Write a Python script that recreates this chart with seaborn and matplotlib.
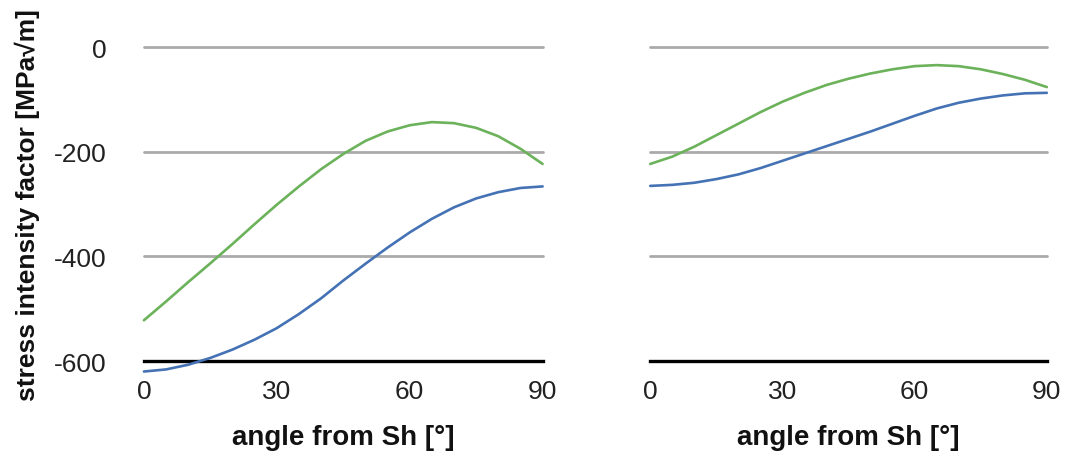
import matplotlib
matplotlib.use("Agg")
import matplotlib.pyplot as plt
import numpy as np
import pandas as pd
import seaborn as sns

# ---- data ----
angles = [0, 5, 10, 15, 20, 25, 30, 35, 40, 45, 50, 55, 60, 65, 70, 75, 80, 85, 90]

left_blue = [-620, -616, -607, -594, -578, -559, -537, -510, -480, -446,
             -414, -383, -354, -328, -306, -289, -277, -269, -266]
left_green = [-522, -486, -449, -413, -376, -338, -301, -266, -233, -204,
              -179, -161, -149, -143, -145, -154, -170, -194, -223]

right_blue = [-265, -263, -259, -252, -243, -231, -217, -203, -189, -175,
              -161, -146, -131, -117, -106, -98, -92, -88, -87]
right_green = [-223, -209, -190, -168, -146, -124, -104, -87, -72, -60,
               -50, -42, -36, -34, -36, -42, -51, -62, -76]

y_ticks = [-600, -400, -200, 0]
x_ticks = [0, 30, 60, 90]
x_label = "angle from Sh [°]"
y_label = "stress intensity factor [MPa√m]"

palette = {"blue": "#4472B4", "green": "#6BB25A"}

sns.set_style("white")
plt.rcParams["font.family"] = ["Liberation Sans", "DejaVu Sans"]
plt.rcParams["axes.unicode_minus"] = False

fig = plt.figure(figsize=(10.66, 4.56), dpi=100)
ax1 = fig.add_axes([0.135, 0.206, 0.374, 0.688])
ax2 = fig.add_axes([0.610, 0.206, 0.372, 0.688])


def make_df(blue, green):
    return pd.DataFrame({
        "angle": angles * 2,
        "K": list(blue) + list(green),
        "series": ["blue"] * len(angles) + ["green"] * len(angles),
    })


for ax, (b, g) in zip([ax1, ax2], [(left_blue, left_green), (right_blue, right_green)]):
    df = make_df(b, g)
    sns.lineplot(data=df, x="angle", y="K", hue="series", palette=palette,
                 linewidth=1.9, legend=False, ax=ax, zorder=3, clip_on=False)
    for ln in ax.get_lines():
        ln.set_solid_joinstyle("round")
    ax.set_xlim(0, 90)
    ax.set_ylim(-600, 0)
    ax.set_xticks(x_ticks)
    ax.set_yticks(y_ticks)
    ax.yaxis.grid(True, color="#AAAAAA", linewidth=2.0)
    ax.xaxis.grid(False)
    for gl in ax.get_ygridlines():
        gl.set_clip_on(False)
    ax.set_axisbelow(True)
    for s in ["top", "right", "left"]:
        ax.spines[s].set_visible(False)
    ax.spines["bottom"].set_color("black")
    ax.spines["bottom"].set_linewidth(2.4)
    ax.spines["bottom"].set_zorder(2.5)
    ax.tick_params(axis="both", length=0, labelsize=19, colors="#222222")
    ax.tick_params(axis="x", pad=13)
    ax.tick_params(axis="y", pad=27)
    ax.set_xlabel(x_label, fontsize=20, fontweight="bold", labelpad=15, color="#111111")
    ax.set_ylabel("")

ax1.set_ylabel(y_label, fontsize=19, fontweight="bold", labelpad=10, color="#111111")
ax2.tick_params(axis="y", labelleft=False)

fig.savefig("out.png", dpi=100)
